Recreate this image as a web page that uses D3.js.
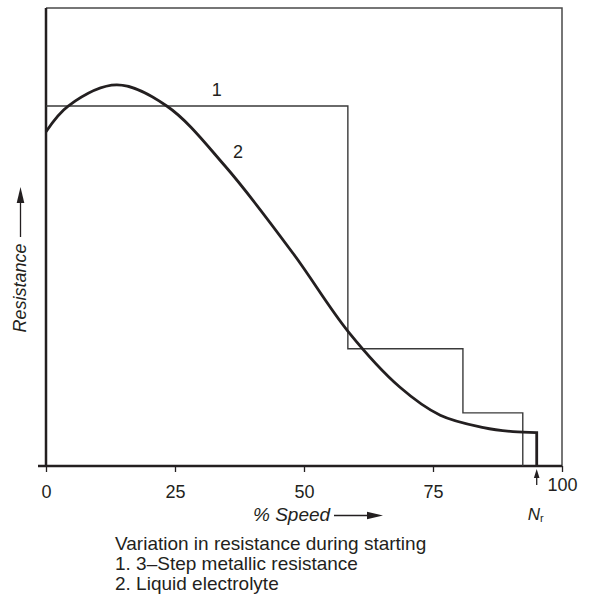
<!DOCTYPE html>
<html>
<head>
<meta charset="utf-8">
<script src="https://cdn.jsdelivr.net/npm/d3@7"></script>
<style>
  body { margin: 0; background: #fff; }
  svg { display: block; font-family: "Liberation Sans", Arial, Helvetica, sans-serif; }
</style>
</head>
<body>
<div id="chart"></div>
<script>
// Data
const speedTicks = [0, 25, 50, 75, 100];

// curve 1: 3-step metallic resistance
const stepSpeed = [0, 58.5, 58.5, 80.8, 80.8, 92.4, 92.4];
const stepResistance = [78.6, 78.6, 25.6, 25.6, 11.6, 11.6, 0];

// curve 2: liquid electrolyte
const liquidSpeed = [0, 4.3, 13.7, 23.4, 34.7, 47.9, 58.6, 68.6, 76.4, 84.8, 90.5, 95.1];
const liquidResistance = [73.0, 78.6, 83.2, 78.6, 65.5, 46.4, 29.3, 17.2, 11.1, 8.4, 7.5, 7.3];

const ratedSpeed = 95.1;
const curveLabels = ["1", "2"];
const curveLabelSpeed = [33.1, 37.2];
const curveLabelResistance = [80.8, 67.2];

const captionLines = [
    "Variation in resistance during starting",
    "1. 3\u2013Step metallic resistance",
    "2. Liquid electrolyte"
];

// Dimensions
const dimensions = {
    width: 589,
    height: 597,
    left: 46,
    right: 562,
    top: 8,
    bottom: 466,
};

const svg = d3.select('#chart')
    .append('svg')
    .attr('width', dimensions.width)
    .attr('height', dimensions.height);

// Scales
const xScale = d3.scaleLinear()
    .domain([0, 100])
    .range([dimensions.left, dimensions.right]);

const yScale = d3.scaleLinear()
    .domain([0, 100])
    .range([dimensions.bottom, dimensions.top]);

const ink = '#231f20';

// Frame (top + right)
svg.append('path')
    .attr('d', `M${xScale(0)},${yScale(100)} H${xScale(100)} V${yScale(0)}`)
    .attr('fill', 'none')
    .attr('stroke', '#4a4a4a')
    .attr('stroke-width', 1.5);

// Axis
const xAxis = d3.axisBottom(xScale)
    .tickValues(speedTicks)
    .tickSize(6)
    .tickSizeOuter(0)
    .tickPadding(13)
    .tickFormat(d3.format('d'));

const xAxisGroup = svg.append('g')
    .attr('transform', `translate(0, ${dimensions.bottom})`)
    .call(xAxis);

xAxisGroup.select('.domain').remove();
xAxisGroup.selectAll('.tick line')
    .attr('stroke', ink)
    .attr('stroke-width', 1.3);
xAxisGroup.selectAll('.tick text')
    .attr('fill', ink)
    .style('font-size', '18px')
    .style('font-family', '"Liberation Sans", Arial, sans-serif');
xAxisGroup.selectAll('.tick')
    .filter(d => d === 100)
    .select('text')
    .attr('y', 12);

// axis lines
svg.append('line')
    .attr('x1', xScale(0) - 8).attr('x2', xScale(100))
    .attr('y1', yScale(0)).attr('y2', yScale(0))
    .attr('stroke', ink)
    .attr('stroke-width', 2.5);

svg.append('line')
    .attr('x1', xScale(0)).attr('x2', xScale(0))
    .attr('y1', yScale(100)).attr('y2', yScale(0))
    .attr('stroke', ink)
    .attr('stroke-width', 2.5);

// Step curve
const stepLine = d3.line()
    .x((d, i) => xScale(stepSpeed[i]))
    .y((d, i) => yScale(stepResistance[i]));

svg.append('path')
    .attr('d', stepLine(stepSpeed))
    .attr('fill', 'none')
    .attr('stroke', '#3a3a3a')
    .attr('stroke-width', 1.4);

// Liquid curve
const liquidLine = d3.line()
    .x((d, i) => xScale(liquidSpeed[i]))
    .y((d, i) => yScale(liquidResistance[i]))
    .curve(d3.curveCatmullRom.alpha(0.5));

svg.append('path')
    .attr('d', liquidLine(liquidSpeed) + `V${yScale(0)}`)
    .attr('fill', 'none')
    .attr('stroke', ink)
    .attr('stroke-width', 2.8);

// Curve labels
svg.selectAll('.curve-label')
    .data(curveLabels)
    .join('text')
    .attr('class', 'curve-label')
    .attr('x', (d, i) => xScale(curveLabelSpeed[i]))
    .attr('y', (d, i) => yScale(curveLabelResistance[i]))
    .attr('text-anchor', 'middle')
    .attr('fill', ink)
    .style('font-size', '18px')
    .text(d => d);

// Arrow helper
function arrowHead(g, tipX, tipY, dir, len, half) {
    let pts;
    if (dir === 'up') pts = [[tipX, tipY], [tipX - half, tipY + len], [tipX + half, tipY + len]];
    else pts = [[tipX, tipY], [tipX - len, tipY - half], [tipX - len, tipY + half]];
    g.append('path')
        .attr('d', d3.line()(pts) + 'Z')
        .attr('fill', ink);
}

// Nr marker
const nrX = xScale(ratedSpeed);
svg.append('line')
    .attr('x1', nrX).attr('x2', nrX)
    .attr('y1', dimensions.bottom + 10).attr('y2', dimensions.bottom + 19)
    .attr('stroke', ink)
    .attr('stroke-width', 1.3);
arrowHead(svg, nrX, dimensions.bottom + 3, 'up', 9, 2.8);

svg.append('text')
    .attr('x', nrX - 1)
    .attr('y', 520)
    .attr('text-anchor', 'middle')
    .attr('fill', ink)
    .style('font-size', '17px')
    .call(t => t.append('tspan').style('font-style', 'italic').text('N'))
    .call(t => t.append('tspan').attr('dy', 2).style('font-size', '11px').text('r'));

// X label
svg.append('text')
    .attr('x', 253)
    .attr('y', 521)
    .attr('fill', ink)
    .style('font-size', '19px')
    .style('font-style', 'italic')
    .text('% Speed');

svg.append('line')
    .attr('x1', 334).attr('x2', 370)
    .attr('y1', 515.5).attr('y2', 515.5)
    .attr('stroke', ink)
    .attr('stroke-width', 1.3);
arrowHead(svg, 383, 515.5, 'right', 16, 3.8);

// Y label
svg.append('text')
    .attr('transform', 'translate(26, 288) rotate(-90)')
    .attr('text-anchor', 'middle')
    .attr('fill', ink)
    .style('font-size', '18px')
    .style('font-style', 'italic')
    .text('Resistance');

svg.append('line')
    .attr('x1', 20.5).attr('x2', 20.5)
    .attr('y1', 237).attr('y2', 200)
    .attr('stroke', ink)
    .attr('stroke-width', 1.3);
arrowHead(svg, 20.5, 187, 'up', 16, 3.8);

// Caption
svg.append('g')
    .selectAll('text')
    .data(captionLines)
    .join('text')
    .attr('x', 115)
    .attr('y', (d, i) => 550 + i * 20)
    .attr('fill', ink)
    .style('font-size', '19px')
    .text(d => d);
</script>
</body>
</html>
